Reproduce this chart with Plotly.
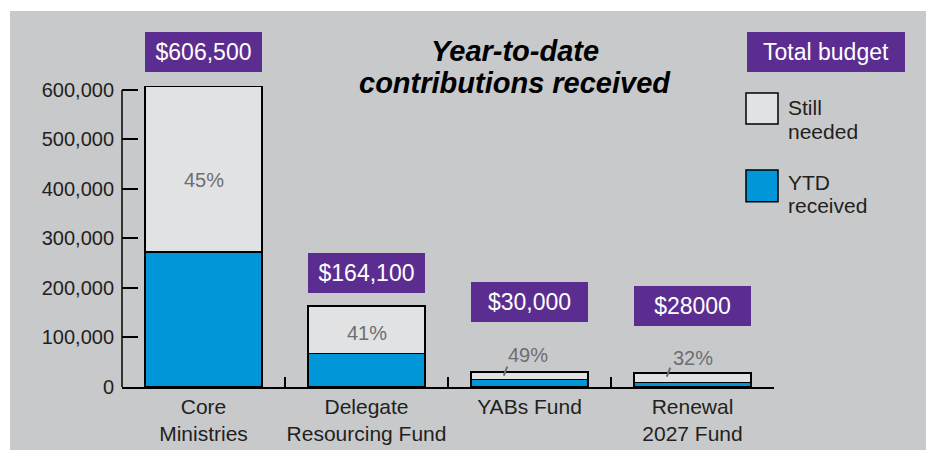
import plotly.graph_objects as go

# ---------------- data ----------------
categories = ["Core<br>Ministries", "Delegate<br>Resourcing Fund", "YABs Fund", "Renewal<br>2027 Fund"]
totals = [606500, 164100, 30000, 28000]          # total budget
ytd_received = [272900, 67300, 14700, 8960]      # YTD received
budget_labels = ["$606,500", "$164,100", "$30,000", "$28000"]
y_ticks = [0, 100000, 200000, 300000, 400000, 500000, 600000]

still_needed = [t - r for t, r in zip(totals, ytd_received)]
pct_labels = [f"{round(r / t * 100)}%" for r, t in zip(ytd_received, totals)]

# ---------------- style ----------------
W, H = 926, 450
L, R, T, B = 122, 152, 85, 63
Y_MAX = 610000
FONT = "Liberation Sans, Arial, Helvetica, sans-serif"
BG = "#c8c9cb"
LIGHT = "#e1e2e4"
BLUE = "#0096d8"
PURPLE = "#5c2d91"
TXT = "#231f20"
GRAYTXT = "#6d6e71"

# label offsets in px, measured upward from the top of the YTD (blue) segment
box_gap = [180, 61, 58, 57]
pct_shift = [72, 21, 25, 25]
pct_xshift = [0, 0, -2, 0]
leader_bars = [2, 3]


def px_x(px):
    return (px - L) / (W - L - R)


def px_y(py):
    return (H - B - py) / (H - T - B)


fig = go.Figure()
fig.add_bar(x=categories, y=ytd_received, name="YTD received",
            marker=dict(color=BLUE, line=dict(color="black", width=1.5)),
            width=0.72, showlegend=False)
fig.add_bar(x=categories, y=still_needed, name="Still needed",
            marker=dict(color=LIGHT, line=dict(color="black", width=1.5)),
            width=0.72, showlegend=False)

annotations = []
shapes = []

# white border strips (top / left)
shapes.append(dict(type="rect", xref="paper", yref="paper", layer="below",
                   x0=px_x(0), x1=px_x(W), y0=px_y(0), y1=px_y(11),
                   fillcolor="white", line=dict(width=0)))
shapes.append(dict(type="rect", xref="paper", yref="paper", layer="below",
                   x0=px_x(0), x1=px_x(10), y0=px_y(0), y1=px_y(H),
                   fillcolor="white", line=dict(width=0)))

# y-axis line (only up to the last tick)
shapes.append(dict(type="line", xref="paper", yref="y", x0=0, x1=0,
                   y0=y_ticks[0], y1=y_ticks[-1], line=dict(color="black", width=1.5)))

for i in range(len(categories)):
    annotations.append(dict(x=i, y=ytd_received[i], xref="x", yref="y", text=budget_labels[i],
                            showarrow=False, yanchor="bottom", yshift=box_gap[i],
                            width=117, height=40, bgcolor=PURPLE, borderpad=0, borderwidth=0,
                            font=dict(color="white", size=23, family=FONT)))
    annotations.append(dict(x=i, y=ytd_received[i], xref="x", yref="y", text=pct_labels[i],
                            showarrow=False, yanchor="middle", yshift=pct_shift[i],
                            xshift=pct_xshift[i],
                            font=dict(color=GRAYTXT, size=20, family=FONT)))

for i in leader_bars:
    shapes.append(dict(type="line", xref="x", yref="y",
                       xsizemode="pixel", xanchor=i, x0=-25.7, x1=-22.3,
                       ysizemode="pixel", yanchor=totals[i], y0=-3.4, y1=5.6,
                       line=dict(color=GRAYTXT, width=2)))

# title
annotations.append(dict(x=px_x(515), y=px_y(51), xref="paper", yref="paper",
                        text="<b><i>Year-to-date</i></b>", showarrow=False,
                        xanchor="center", yanchor="middle",
                        font=dict(size=29, color="black", family=FONT)))
annotations.append(dict(x=px_x(515), y=px_y(83), xref="paper", yref="paper",
                        text="<b><i>contributions received</i></b>", showarrow=False,
                        xanchor="center", yanchor="middle",
                        font=dict(size=29, color="black", family=FONT)))

# total budget box
annotations.append(dict(x=px_x(826.3), y=px_y(52), xref="paper", yref="paper",
                        text="Total budget", showarrow=False, width=158, height=40,
                        xanchor="center", yanchor="middle",
                        bgcolor=PURPLE, borderpad=0, borderwidth=0,
                        font=dict(color="white", size=23, family=FONT)))

# legend swatches
for (y0, y1, col) in [(93, 124, LIGHT), (170, 201.7, BLUE)]:
    shapes.append(dict(type="rect", xref="paper", yref="paper",
                       x0=px_x(746), x1=px_x(778), y0=px_y(y1), y1=px_y(y0),
                       fillcolor=col, line=dict(color="black", width=1.5)))
for txt, yc in [("Still", 108), ("needed", 131), ("YTD", 182), ("received", 205)]:
    annotations.append(dict(x=px_x(786), y=px_y(yc), xref="paper", yref="paper",
                            text=txt, showarrow=False, xanchor="left", yanchor="middle",
                            font=dict(size=21, color=TXT, family=FONT)))

fig.update_layout(
    width=W, height=H,
    margin=dict(l=L, r=R, t=T, b=B, pad=0, autoexpand=False),
    paper_bgcolor=BG, plot_bgcolor="rgba(0,0,0,0)",
    barmode="stack", bargap=0.28,
    font=dict(family=FONT, color=TXT),
    annotations=annotations, shapes=shapes,
    showlegend=False,
)
fig.update_xaxes(type="category", range=[-0.5, 3.5], showline=True, linecolor="black",
                 linewidth=1.5, ticks="inside", ticklen=10, tickwidth=1.5, tickcolor="black",
                 tickson="boundaries", showgrid=False, zeroline=False, tickangle=0,
                 automargin=False,
                 tickfont=dict(size=21, color=TXT, family=FONT), fixedrange=True)
fig.update_yaxes(range=[0, Y_MAX], tickvals=y_ticks, tickformat=",", showline=False,
                 ticks="inside", ticklen=16, tickwidth=1.5,
                 tickcolor="black", showgrid=False, zeroline=False, automargin=False,
                 tickfont=dict(size=20, color=TXT, family=FONT), ticklabelstandoff=7,
                 fixedrange=True)

fig.write_html("out.html")
